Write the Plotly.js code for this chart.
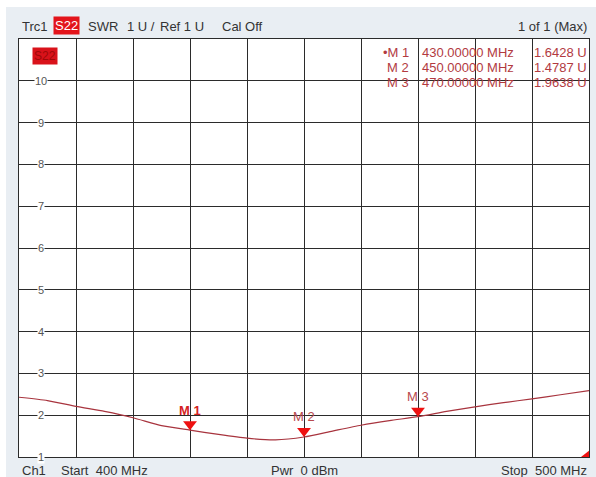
<!DOCTYPE html>
<html><head><meta charset="utf-8">
<script src="https://cdn.plot.ly/plotly-3.0.1.min.js"></script>
<style>
html,body{margin:0;padding:0;background:#ffffff;width:596px;height:477px;overflow:hidden}
#chart{position:absolute;left:6px;top:7px;width:590px;height:470px}
</style></head><body><div id="chart"></div>
<script>
// ---- data ----
const freqMHz = [400,405,410,415,420,425,430,435,440,445,450,455,460,465,470,475,480,485,490,495,500];
const swr     = [2.43,2.35,2.21,2.09,1.94,1.75,1.6428,1.54,1.45,1.41,1.4787,1.62,1.76,1.87,1.9638,2.09,2.20,2.30,2.39,2.49,2.59];
const markerNames = ['M 1','M 2','M 3'];
const markerFreqMHz = [430,450,470];
const markerSwr = [1.6428,1.4787,1.9638];
const markerFreqText = ['430.00000 MHz','450.00000 MHz','470.00000 MHz'];
const markerValText = ['1.6428 U','1.4787 U','1.9638 U'];
const yTickValues = [1,2,3,4,5,6,7,8,9,10];
const yTickLabels = ['1','2','3','4','5','6','7','8','9','10'];
const refLevel = 1;

// ---- layout helpers (page pixel -> paper) ----
const DIV_L = 6, DIV_T = 7, W = 590, H = 470;
const M = {l:13, r:7, t:32, b:20};
const PW = W - M.l - M.r, PH = H - M.t - M.b;
const px = X => (X - DIV_L - M.l) / PW;
const py = Y => 1 - (Y - DIV_T - M.t) / PH;
const pxPerUnit = PH / 10;
const FONT = 'Liberation Sans, Arial, sans-serif';
const RED_TXT = '#b23a3f';

const ann = [];
function txt(text, X, Y, opts) {
  ann.push(Object.assign({xref:'paper', yref:'paper', x:px(X), y:py(Y), text:text,
    showarrow:false, xanchor:'left', yanchor:'middle',
    font:{family:FONT, size:13, color:'#333333'}}, opts || {}));
}
// header
txt('Trc1', 20, 26);
txt('S22', 53, 25.5, {bgcolor:'#e3141b', font:{family:FONT,size:13,color:'#ffffff'}, borderpad:1});
txt('SWR', 86, 26);
txt('1 U /', 125, 26);
txt('Ref 1 U', 158, 26);
txt('Cal Off', 220, 26);
txt('1 of 1 (Max)', 589, 26, {xanchor:'right'});
// footer
txt('Ch1', 20, 470.5);
txt('Start  400 MHz', 59, 470.5);
txt('Pwr  0 dBm', 269, 470.5);
txt('Stop  500 MHz', 589, 470.5, {xanchor:'right'});
// trace label box
txt('S22', 32, 55.5, {bgcolor:'#d9121a', font:{family:FONT,size:12,color:'#a00808'}, borderpad:1});
// marker readout
const rowsY = [52.7, 68, 82.7];
for (let i = 0; i < markerNames.length; i++) {
  txt((i === 0 ? '•' : '') + markerNames[i], 411, rowsY[i], {xanchor:'right', font:{family:FONT,size:13,color:RED_TXT}});
  txt(markerFreqText[i], 420, rowsY[i], {font:{family:FONT,size:13,color:RED_TXT}});
  txt(markerValText[i], 532, rowsY[i], {font:{family:FONT,size:13,color:RED_TXT}});
}
// y tick labels inside the grid with white background
for (let i = 0; i < yTickValues.length; i++) {
  ann.push({xref:'paper', yref:'y', x:px(41), y:yTickValues[i], text:yTickLabels[i], showarrow:false,
    xanchor:'center', yanchor:'middle', bgcolor:'#ffffff', borderpad:0,
    font:{family:FONT, size:11, color:'#555555'}});
}
// marker labels
for (let i = 0; i < markerNames.length; i++) {
  ann.push({xref:'x', yref:'y', x:markerFreqMHz[i], y:markerSwr[i], yshift:20, text:markerNames[i],
    showarrow:false, xanchor:'center', yanchor:'middle',
    font:{family:FONT, size:13, color: i === 0 ? '#d42222' : '#b8484c', weight: i === 0 ? 'bold' : 'normal'}});
}

const markerR = 6;
const traces = [
  {x:freqMHz, y:swr, type:'scatter', mode:'lines', line:{color:'#a8343e', width:1.2, shape:'spline', smoothing:0.6},
   hoverinfo:'skip'},
  {x:markerFreqMHz, y:markerSwr.map(v => v + markerR / pxPerUnit), type:'scatter', mode:'markers',
   marker:{symbol:'triangle-down', size:markerR*2, color:'#ee1111', line:{width:0}}, hoverinfo:'skip'},
  {x:[freqMHz[freqMHz.length-1]], y:[refLevel], type:'scatter', mode:'markers', cliponaxis:true,
   marker:{symbol:'triangle-left', size:16, color:'#ee1111', line:{width:0}}, hoverinfo:'skip'}
];

const layout = {
  width:W, height:H, margin:M, showlegend:false,
  paper_bgcolor:'#e9eef3', plot_bgcolor:'#ffffff',
  xaxis:{range:[400,500], dtick:10, tick0:400, showgrid:true, gridcolor:'#2b2b2b', gridwidth:1,
    showticklabels:false, zeroline:false, showline:true, mirror:true, linecolor:'#2b2b2b', linewidth:1, ticks:''},
  yaxis:{range:[1,11], dtick:1, tick0:1, showgrid:true, gridcolor:'#2b2b2b', gridwidth:1,
    showticklabels:false, zeroline:false, showline:true, mirror:true, linecolor:'#2b2b2b', linewidth:1, ticks:''},
  annotations:ann
};
Plotly.newPlot('chart', traces, layout, {staticPlot:true, displayModeBar:false});
</script></body></html>
